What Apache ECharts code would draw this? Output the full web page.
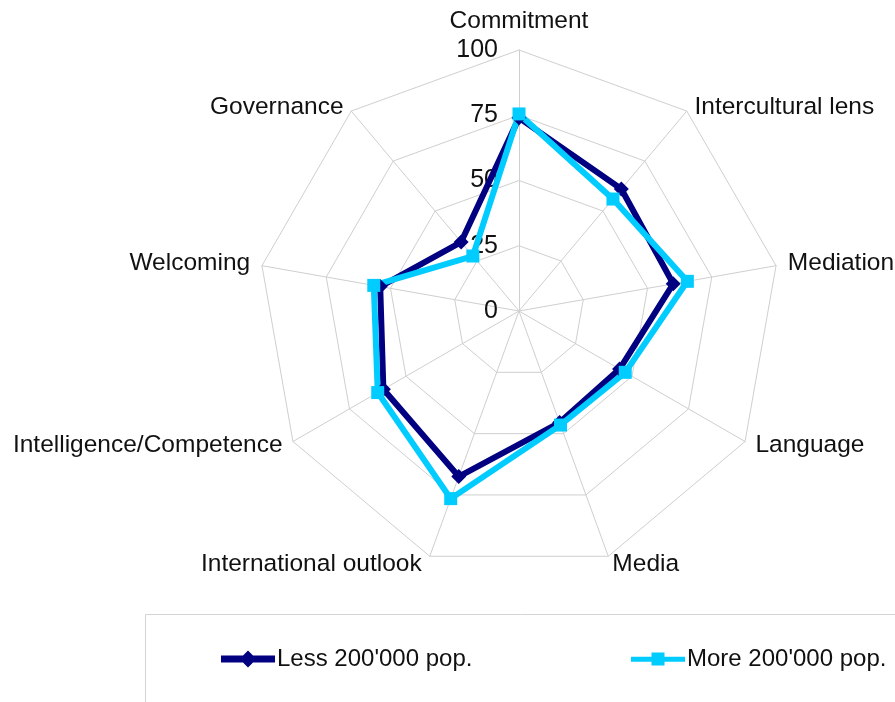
<!DOCTYPE html>
<html>
<head>
<meta charset="utf-8">
<script src="https://cdn.jsdelivr.net/npm/echarts@6/dist/echarts.min.js"></script>
<style>
html,body{margin:0;padding:0;background:#fff;}
#chart{width:895px;height:702px;}
</style>
</head>
<body>
<div id="chart"></div>
<script>
// Categories in clockwise order starting at the top
var categories = ['Commitment', 'Intercultural lens', 'Mediation', 'Language', 'Media',
  'International outlook', 'Intelligence/Competence', 'Welcoming', 'Governance'];
var lessValues = [74, 61, 60, 44.5, 45.5, 67.5, 60, 54, 34.5];
var moreValues = [75.5, 56, 65.5, 47, 46.5, 76.5, 62.5, 56.5, 27.5];
var seriesNames = ["Less 200'000 pop.", "More 200'000 pop."];
var tickValues = [0, 25, 50, 75, 100];

// small per-label text nudges to match the reference label placement
var nameNudge = {
  'Commitment': 'top',
  'Intercultural lens': 'down',
  'Governance': 'down',
  'Language': 'up2',
  'Intelligence/Competence': 'up2',
  'Media': 'up3',
  'International outlook': 'up3'
};

// ECharts lays radar indicators counter-clockwise: reorder to get clockwise
function toCCW(arr) { return [arr[0]].concat(arr.slice(1).reverse()); }

var FONT = "'Liberation Sans', Arial, Helvetica, sans-serif";
var chart = echarts.init(document.getElementById('chart'));
var indicators = toCCW(categories).map(function (n, i) {
  var ind = { name: n, min: tickValues[0], max: tickValues[tickValues.length - 1] };
  if (i === 0) {
    ind.axisLabel = { show: true, color: '#111', fontSize: 25, fontFamily: FONT, margin: 21 };
    ind.nameTextStyle = { padding: [0, 0, 4, 0] };
  }
  return ind;
});

var nameStyle = { color: '#111', fontSize: 24.5, fontFamily: FONT };
function richStyle(pad) {
  return { color: '#111', fontSize: 24.5, fontFamily: FONT, padding: pad };
}

var legendText = { color: '#111', fontSize: 24, fontFamily: FONT, padding: [0, 0, 0, -3] };

chart.setOption({
  animation: false,
  backgroundColor: '#fff',
  textStyle: { fontFamily: FONT },
  graphic: [{
    type: 'rect', silent: true, z: -1,
    shape: { x: 145.5, y: 614.5, width: 800, height: 200 },
    style: { fill: 'none', stroke: '#d4d4d4', lineWidth: 1 }
  }],
  legend: [{
    left: 221, top: 647, padding: 0,
    itemWidth: 54, itemHeight: 17,
    textStyle: legendText,
    data: [{ name: seriesNames[0], icon: 'path://M0,5 L22,5 L27,0 L32,5 L54,5 L54,12 L32,12 L27,17 L22,12 L0,12 Z' }]
  }, {
    left: 631, top: 647, padding: 0,
    itemWidth: 54, itemHeight: 17,
    textStyle: legendText,
    data: [{ name: seriesNames[1], icon: 'path://M0,4.2 L20.5,4.2 L20.5,0 L33.5,0 L33.5,4.2 L54,4.2 L54,9.2 L33.5,9.2 L33.5,13 L20.5,13 L20.5,9.2 L0,9.2 Z' }]
  }],
  radar: {
    center: [519, 311],
    radius: 261,
    startAngle: 90,
    splitNumber: 4,
    shape: 'polygon',
    indicator: indicators,
    nameGap: 12,
    axisName: {
      color: '#111', fontSize: 24.5, fontFamily: FONT,
      formatter: function (name) {
        var k = nameNudge[name];
        if (!k || k === 'top') return name;
        return '{' + k + '|' + name + '}';
      },
      rich: {
        down: richStyle([10, 0, 0, 0]),
        up2: richStyle([0, 0, 4, 0]),
        up3: richStyle([0, 4, 6, 0])
      }
    },
    splitLine: { lineStyle: { color: '#cfcfcf', width: 1 } },
    splitArea: { show: false },
    axisLine: { lineStyle: { color: '#cfcfcf', width: 1 } },
    axisTick: { show: false },
    axisLabel: { show: false }
  },
  series: [{
    type: 'radar',
    data: [
      {
        name: seriesNames[0], value: toCCW(lessValues),
        symbol: 'diamond', symbolSize: 15,
        lineStyle: { color: '#000080', width: 6 },
        itemStyle: { color: '#000080' }
      },
      {
        name: seriesNames[1], value: toCCW(moreValues),
        symbol: 'rect', symbolSize: 13,
        lineStyle: { color: '#00ccff', width: 6 },
        itemStyle: { color: '#00ccff' }
      }
    ]
  }]
});
</script>
</body>
</html>
